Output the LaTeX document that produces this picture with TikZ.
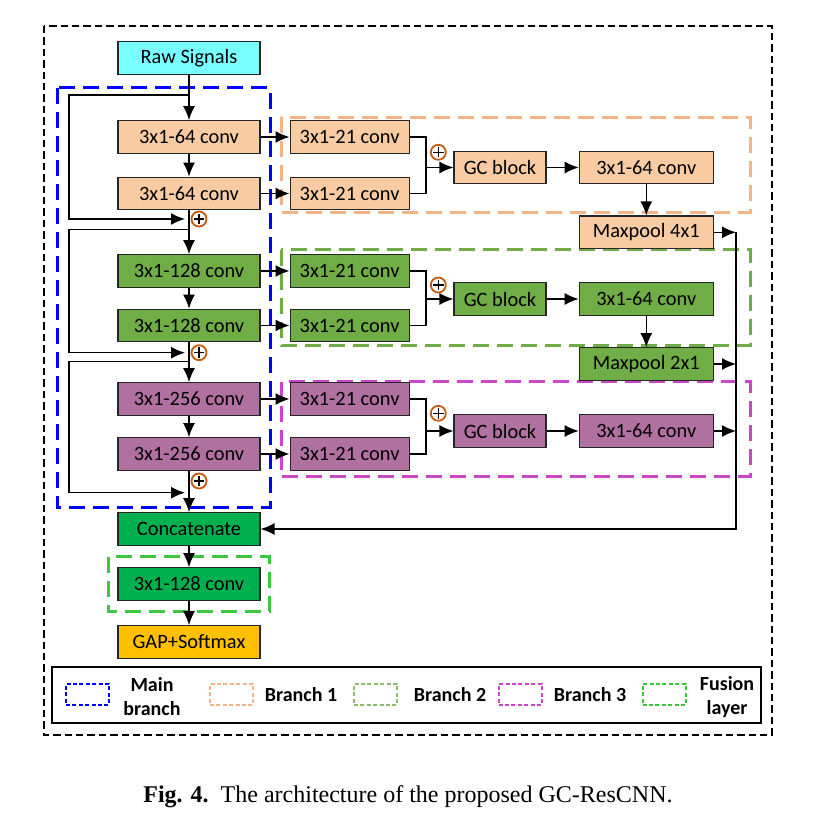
\documentclass[tikz,border=0pt]{standalone}
\usepackage{fontspec}
\setmainfont{Carlito}
\newfontfamily\capfont{Liberation Serif}
\usetikzlibrary{arrows.meta}
\definecolor{rawc}{RGB}{120,255,255}
\definecolor{orc}{RGB}{248,203,163}
\definecolor{orl}{RGB}{244,180,135}
\definecolor{grc}{RGB}{112,173,71}
\definecolor{pkc}{RGB}{176,112,160}
\definecolor{pkl}{RGB}{204,70,204}
\definecolor{fgc}{RGB}{0,176,80}
\definecolor{fgl}{RGB}{60,200,60}
\definecolor{gapc}{RGB}{255,192,0}
\definecolor{sumc}{RGB}{197,90,17}

\begin{document}
\begin{tikzpicture}[x=0.5pt,y=-0.5pt,
  blk/.style={draw=black!85,line width=0.6pt,inner sep=0pt,minimum height=16.3pt,font=\fontsize{10.2}{12}\selectfont},
  mainb/.style={blk,minimum width=71pt},
  brb/.style={blk,minimum width=59.5pt},
  gcb/.style={blk,minimum width=46pt},
  outb/.style={blk,minimum width=67pt},
  con/.style={line width=0.7pt,-{Latex[length=7pt,width=6pt]}},
  ln/.style={line width=0.7pt},
  grp/.style={line width=1.5pt,dash pattern=on 8pt off 4pt},
  leg/.style={line width=1pt,dash pattern=on 2pt off 1.2pt,minimum width=21.5pt,minimum height=10.5pt,inner sep=0pt},
  legt/.style={font=\bfseries\fontsize{10}{12}\selectfont,align=center},
  addsym/.style={circle,draw=sumc,line width=0.9pt,minimum size=7.5pt,inner sep=0pt,
    path picture={\draw[black,line width=0.6pt]
      ([xshift=-2.6pt]path picture bounding box.center) -- ([xshift=2.6pt]path picture bounding box.center)
      ([yshift=-2.6pt]path picture bounding box.center) -- ([yshift=2.6pt]path picture bounding box.center);}}]
\useasboundingbox (0,0) rectangle (813,833);

\draw[line width=0.75pt,dash pattern=on 3.7pt off 2pt] (44,26) rectangle (772,735);
\draw[grp,draw=blue] (57,88) rectangle (270.5,507.7);
\draw[grp,draw=orl] (281,117.3) rectangle (750,212.7);
\draw[grp,draw=grc] (281,250) rectangle (750,346);
\draw[grp,draw=pkl] (281,381.7) rectangle (750,476.7);
\draw[grp,draw=fgl] (108.3,556.7) rectangle (269.3,611.7);

\node[mainb,fill=rawc] (raw) at (189,58) {Raw Signals};
\node[mainb,fill=orc] (c1) at (189,137) {3x1-64 conv};
\node[mainb,fill=orc] (c2) at (189,193.5) {3x1-64 conv};
\node[mainb,fill=grc] (c3) at (189,271) {3x1-128 conv};
\node[mainb,fill=grc] (c4) at (189,325.5) {3x1-128 conv};
\node[mainb,fill=pkc] (c5) at (189,399) {3x1-256 conv};
\node[mainb,fill=pkc] (c6) at (189,454) {3x1-256 conv};
\node[mainb,fill=fgc] (cat) at (189,529) {Concatenate};
\node[mainb,fill=fgc] (fus) at (189,584) {3x1-128 conv};
\node[mainb,fill=gapc] (gap) at (189,642) {GAP+Softmax};

\node[brb,fill=orc] (b1a) at (349.6,137) {3x1-21 conv}; \node[brb,fill=orc] (b1b) at (349.6,193.5) {3x1-21 conv};
\node[gcb,fill=orc] (g1) at (500,167.5) {GC block}; \node[outb,fill=orc] (d1) at (646.3,167.5) {3x1-64 conv};
\node[outb,fill=orc] (p1) at (646.3,232.3) {Maxpool 4x1};
\node[brb,fill=grc] (b2a) at (349.6,271) {3x1-21 conv}; \node[brb,fill=grc] (b2b) at (349.6,325.5) {3x1-21 conv};
\node[gcb,fill=grc] (g2) at (500,299) {GC block}; \node[outb,fill=grc] (d2) at (646.3,299) {3x1-64 conv};
\node[outb,fill=grc] (p2) at (646.3,364) {Maxpool 2x1};
\node[brb,fill=pkc] (b3a) at (349.6,399) {3x1-21 conv}; \node[brb,fill=pkc] (b3b) at (349.6,454) {3x1-21 conv};
\node[gcb,fill=pkc] (g3) at (500,431) {GC block}; \node[outb,fill=pkc] (d3) at (646.3,431) {3x1-64 conv};

\node[addsym] (a1) at (199,219) {}; \node[addsym] (a2) at (199,352.7) {}; \node[addsym] (a3) at (199,481) {};
\node[addsym] (a4) at (438.3,152.3) {}; \node[addsym] (a5) at (438.3,285) {}; \node[addsym] (a6) at (438.3,413.3) {};

\coordinate (s1) at (189,95); \coordinate (t1) at (185,219);
\coordinate (s2) at (189,229.3); \coordinate (t2) at (185,352.7);
\coordinate (s3) at (189,361.7); \coordinate (t3) at (185,492.7);
\coordinate (m1) at (426,167.5); \coordinate (m2) at (426,299); \coordinate (m3) at (426,431);
\coordinate (r1) at (736,232.3); \coordinate (r2) at (736,364); \coordinate (r3) at (736,431);

\draw[con] (raw) -- (c1);
\draw[con] (c1) -- (c2);
\draw[con] (c2) -- (c3);
\draw[con] (c3) -- (c4);
\draw[con] (c4) -- (c5);
\draw[con] (c5) -- (c6);
\draw[con] (c6) -- (cat);
\draw[con] (cat) -- (fus);
\draw[con] (fus) -- (gap);
\draw[con] (s1) -- ++(-120,0) |- (t1);
\draw[con] (s2) -- ++(-120,0) |- (t2);
\draw[con] (s3) -- ++(-120,0) |- (t3);

\draw[con] (c1) -- (b1a); \draw[con] (c2) -- (b1b);
\draw[con] (c3) -- (b2a); \draw[con] (c4) -- (b2b);
\draw[con] (c5) -- (b3a); \draw[con] (c6) -- (b3b);
\draw[ln] (b1a.east) -| (m1) |- (b1b.east); \draw[con] (m1) -- (g1);
\draw[ln] (b2a.east) -| (m2) |- (b2b.east); \draw[con] (m2) -- (g2);
\draw[ln] (b3a.east) -| (m3) |- (b3b.east); \draw[con] (m3) -- (g3);
\draw[con] (g1) -- (d1); \draw[con] (g2) -- (d2); \draw[con] (g3) -- (d3);
\draw[con] (d1) -- (p1); \draw[con] (d2) -- (p2);
\draw[con] (p1) -- (r1); \draw[con] (p2) -- (r2); \draw[con] (d3) -- (r3);
\draw[con] (r1) |- (cat);

\draw[line width=1pt] (52,667.3) rectangle (761,722.7);
\node[leg,draw=blue] (l1) at (87.5,694.5) {}; \node[legt] (lt1) at (152,697) {Main\\branch};
\node[leg,draw=orl] (l2) at (231.5,694.5) {}; \node[legt] (lt2) at (301,694.5) {Branch 1};
\node[leg,draw=grc!80] (l3) at (375.5,694.5) {}; \node[legt] (lt3) at (450,694.5) {Branch 2};
\node[leg,draw=pkl] (l4) at (520,694.5) {}; \node[legt] (lt4) at (590,694.5) {Branch 3};
\node[leg,draw=fgl] (l5) at (664,694.5) {}; \node[legt] (lt5) at (727,697) {Fusion\\layer};

\node (cap) at (408,797) {\capfont\fontsize{12}{14}\selectfont\textbf{Fig. 4.}\ \ The architecture of the proposed GC-ResCNN.};
\end{tikzpicture}
\end{document}
